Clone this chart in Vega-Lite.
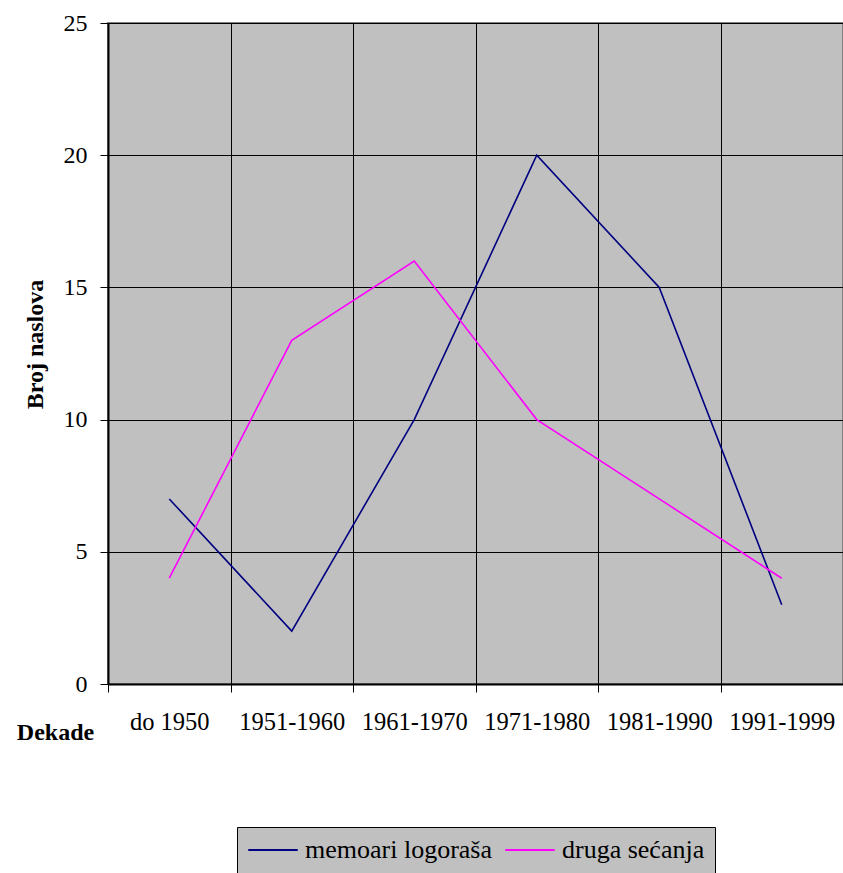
{
  "$schema": "https://vega.github.io/schema/vega-lite/v6.json",
  "width": 735,
  "height": 661,
  "autosize": {"type": "none"},
  "padding": {"left": 108, "top": 23, "right": 0, "bottom": 189},
  "background": "white",
  "config": {
    "font": "Liberation Serif",
    "view": {"fill": "#C0C0C0", "stroke": "#808080", "strokeWidth": 2}
  },
  "data": {
    "values": [
      {"dekada": "do 1950", "serija": "memoari logoraša", "broj": 7},
      {"dekada": "1951-1960", "serija": "memoari logoraša", "broj": 2},
      {"dekada": "1961-1970", "serija": "memoari logoraša", "broj": 10},
      {"dekada": "1971-1980", "serija": "memoari logoraša", "broj": 20},
      {"dekada": "1981-1990", "serija": "memoari logoraša", "broj": 15},
      {"dekada": "1991-1999", "serija": "memoari logoraša", "broj": 3},
      {"dekada": "do 1950", "serija": "druga sećanja", "broj": 4},
      {"dekada": "1951-1960", "serija": "druga sećanja", "broj": 13},
      {"dekada": "1961-1970", "serija": "druga sećanja", "broj": 16},
      {"dekada": "1971-1980", "serija": "druga sećanja", "broj": 10},
      {"dekada": "1981-1990", "serija": "druga sećanja", "broj": 7},
      {"dekada": "1991-1999", "serija": "druga sećanja", "broj": 4}
    ]
  },
  "mark": {"type": "line", "strokeWidth": 1.6},
  "encoding": {
    "x": {
      "field": "dekada",
      "type": "nominal",
      "sort": null,
      "scale": {"type": "band", "paddingInner": 0, "paddingOuter": 0},
      "axis": {
        "title": "Dekade",
        "titleFont": "Liberation Serif",
        "titleFontSize": 24,
        "titleFontWeight": "bold",
        "titleColor": "black",
        "titleX": -53,
        "titleY": 48,
        "titleAlign": "center",
        "titleBaseline": "middle",
        "labelAngle": 0,
        "labelFont": "Liberation Serif",
        "labelFontSize": 24.5,
        "labelColor": "black",
        "labelPadding": 18,
        "tickBand": "extent",
        "tickSize": 8,
        "tickColor": "black",
        "domainColor": "black",
        "domainWidth": 2,
        "grid": true,
        "gridColor": "black",
        "gridWidth": 1,
        "gridOpacity": 1
      }
    },
    "y": {
      "field": "broj",
      "type": "quantitative",
      "scale": {"domain": [0, 25], "nice": false},
      "axis": {
        "title": "Broj naslova",
        "titleFont": "Liberation Serif",
        "titleFontSize": 24,
        "titleFontWeight": "bold",
        "titleColor": "black",
        "titleAngle": -90,
        "titleX": -73,
        "titleY": 321,
        "titleAlign": "center",
        "titleBaseline": "middle",
        "values": [0, 5, 10, 15, 20, 25],
        "labelFont": "Liberation Serif",
        "labelFontSize": 24,
        "labelColor": "black",
        "labelPadding": 13,
        "tickSize": 8,
        "tickColor": "black",
        "domainColor": "black",
        "domainWidth": 2,
        "grid": true,
        "gridColor": "black",
        "gridWidth": 1,
        "gridOpacity": 1
      }
    },
    "color": {
      "field": "serija",
      "type": "nominal",
      "sort": ["memoari logoraša", "druga sećanja"],
      "scale": {"domain": ["memoari logoraša", "druga sećanja"], "range": ["#000080", "#FF00FF"]},
      "legend": {
        "title": null,
        "orient": "none",
        "legendX": 129,
        "legendY": 804,
        "direction": "horizontal",
        "columns": 2,
        "fillColor": "#C0C0C0",
        "strokeColor": "black",
        "padding": 10,
        "symbolType": "stroke",
        "symbolSize": 2450,
        "symbolStrokeWidth": 2,
        "clipHeight": 26,
        "labelFont": "Liberation Serif",
        "labelFontSize": 26,
        "labelColor": "black",
        "labelOffset": 6,
        "columnPadding": 12,
        "labelLimit": 300
      }
    }
  }
}
